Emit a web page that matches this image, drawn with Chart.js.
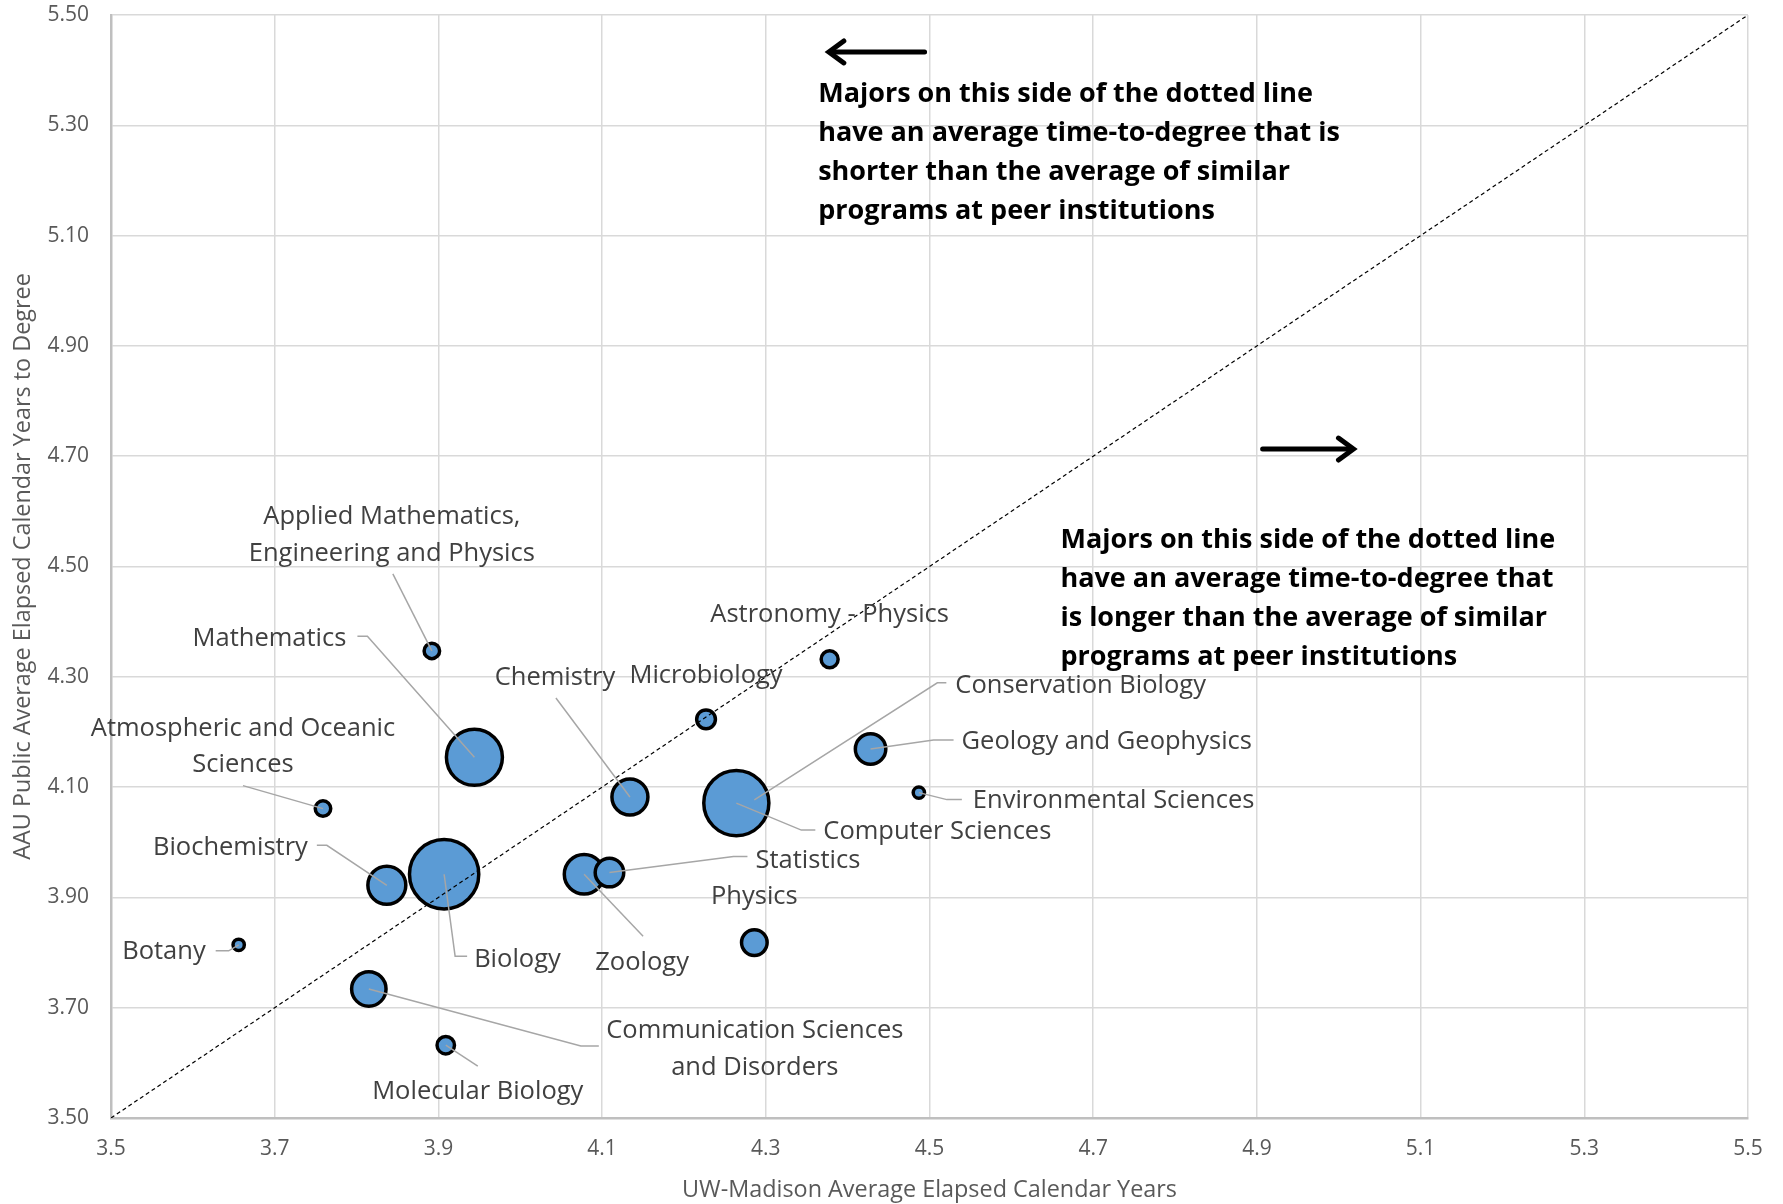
<!DOCTYPE html>
<html>
<head>
<meta charset="utf-8">
<script src="https://cdn.jsdelivr.net/npm/chart.js@4.4.1/dist/chart.umd.min.js"></script>
<style>
  html, body { margin: 0; padding: 0; background: #fff; }
  #wrap { width: 1783px; height: 1204px; }
</style>
</head>
<body>
<div id="wrap"><canvas id="chartTTD" width="1783" height="1204"></canvas></div>
<script>
// Dữ liệu: ngành học, số năm UW-Madison, số năm AAU, quy mô (kích thước bong bóng)
const majors = [
    "Botany",
    "Atmospheric and Oceanic Sciences",
    "Applied Mathematics, Engineering and Physics",
    "Communication Sciences and Disorders",
    "Biochemistry",
    "Biology",
    "Molecular Biology",
    "Mathematics",
    "Zoology",
    "Statistics",
    "Chemistry",
    "Microbiology",
    "Conservation Biology",
    "Computer Sciences",
    "Physics",
    "Astronomy - Physics",
    "Geology and Geophysics",
    "Environmental Sciences",
];
const uwYears  = [3.656, 3.759, 3.892, 3.815, 3.837, 3.907, 3.909, 3.944, 4.078, 4.109, 4.134, 4.227, 4.286, 4.264, 4.286, 4.378, 4.428, 4.487];
const aauYears = [3.814, 4.061, 4.347, 3.734, 3.922, 3.942, 3.632, 4.154, 3.942, 3.945, 4.082, 4.223, 4.077, 4.071, 3.818, 4.332, 4.169, 4.090];
const graduates = [8, 15, 15, 74, 90, 300, 19, 196, 98, 51, 81, 22, 20, 265, 41, 18, 58, 8];

const xTicks = [3.5, 3.7, 3.9, 4.1, 4.3, 4.5, 4.7, 4.9, 5.1, 5.3, 5.5];
const yTicks = [3.5, 3.7, 3.9, 4.1, 4.3, 4.5, 4.7, 4.9, 5.1, 5.3, 5.5];

const noteShorter = [
    "Majors on this side of the dotted line",
    "have an average time-to-degree that is",
    "shorter than the average of similar",
    "programs at peer institutions",
];
const noteLonger = [
    "Majors on this side of the dotted line",
    "have an average time-to-degree that",
    "is longer than the average of similar",
    "programs at peer institutions",
];

// Vị trí nhãn (px, so với tâm bong bóng) và đường dẫn
const labelLayout = {
    "Botany": { lines: ["Botany"], dx: -33, dy: 7, align: "right", leader: [[-23, 6], [-10, 6]] },
    "Atmospheric and Oceanic Sciences": { lines: ["Atmospheric and Oceanic", "Sciences"], dx: -80, dy: -80, align: "center", leader: [[-80, -23]] },
    "Applied Mathematics, Engineering and Physics": { lines: ["Applied Mathematics,", "Engineering and Physics"], dx: -40, dy: -134, align: "center", leader: [[-39, -77]] },
    "Communication Sciences and Disorders": { lines: ["Communication Sciences", "and Disorders"], dx: 386, dy: 42, align: "center", leader: [[230, 57], [212, 57]] },
    "Biochemistry": { lines: ["Biochemistry"], dx: -79, dy: -38, align: "right", leader: [[-70, -40], [-60, -40]] },
    "Biology": { lines: ["Biology"], dx: 30, dy: 85, align: "left", leader: [[23, 82], [11, 82]] },
    "Molecular Biology": { lines: ["Molecular Biology"], dx: 32, dy: 47, align: "center", leader: [[32, 21]] },
    "Mathematics": { lines: ["Mathematics"], dx: -128, dy: -119, align: "right", leader: [[-117, -121], [-107, -121]] },
    "Zoology": { lines: ["Zoology"], dx: 58, dy: 88, align: "center", leader: [[59, 62]] },
    "Statistics": { lines: ["Statistics"], dx: 146, dy: -12, align: "left", leader: [[138, -16], [124, -16]] },
    "Chemistry": { lines: ["Chemistry"], dx: -75, dy: -119, align: "center", leader: [[-74, -99]] },
    "Microbiology": { lines: ["Microbiology"], dx: 0, dy: -44, align: "center", leader: null },
    "Conservation Biology": { lines: ["Conservation Biology"], dx: 201, dy: -114, align: "left", leader: [[192, -117], [183, -117]] },
    "Computer Sciences": { lines: ["Computer Sciences"], dx: 87, dy: 29, align: "left", leader: [[79, 27], [65, 27]] },
    "Physics": { lines: ["Physics"], dx: 0, dy: -46, align: "center", leader: null },
    "Astronomy - Physics": { lines: ["Astronomy - Physics"], dx: 0, dy: -44, align: "center", leader: null },
    "Geology and Geophysics": { lines: ["Geology and Geophysics"], dx: 91, dy: -7, align: "left", leader: [[83, -9], [63, -9]] },
    "Environmental Sciences": { lines: ["Environmental Sciences"], dx: 54, dy: 8, align: "left", leader: [[43, 7], [28, 7]] },
};

const FONT = "'Open Sans', Lato, sans-serif";

const annotations = {
    id: "annotations",
    afterDatasetsDraw(chart) {
        const ctx = chart.ctx;
        const xs = chart.scales.x;
        const ys = chart.scales.y;
        const meta = chart.getDatasetMeta(1);
        ctx.save();

        // đường dẫn
        ctx.strokeStyle = "#a6a6a6";
        ctx.lineWidth = 1.5;
        meta.data.forEach((pt, i) => {
            const lay = labelLayout[majors[i]];
            if (!lay || !lay.leader) return;
            ctx.beginPath();
            lay.leader.forEach(([dx, dy], k) => {
                if (k === 0) ctx.moveTo(pt.x + dx, pt.y + dy);
                else ctx.lineTo(pt.x + dx, pt.y + dy);
            });
            ctx.lineTo(pt.x, pt.y);
            ctx.stroke();
        });

        // nhãn
        ctx.fillStyle = "#404040";
        ctx.font = "25.5px " + FONT;
        ctx.textBaseline = "middle";
        meta.data.forEach((pt, i) => {
            const lay = labelLayout[majors[i]];
            if (!lay) return;
            ctx.textAlign = lay.align;
            lay.lines.forEach((line, k) => {
                ctx.fillText(line, pt.x + lay.dx, pt.y + lay.dy + k * 36.5);
            });
        });

        // ghi chú
        ctx.fillStyle = "#000";
        ctx.font = "bold 27px " + FONT;
        ctx.textAlign = "left";
        noteShorter.forEach((line, k) => {
            ctx.fillText(line, xs.getPixelForValue(4.364), ys.getPixelForValue(5.357) + k * 39);
        });
        noteLonger.forEach((line, k) => {
            ctx.fillText(line, xs.getPixelForValue(4.660), ys.getPixelForValue(4.548) + k * 39);
        });

        // mũi tên
        const arrow = (x0, x1, yv) => {
            const px0 = xs.getPixelForValue(x0);
            const px1 = xs.getPixelForValue(x1);
            const py = ys.getPixelForValue(yv);
            const dir = Math.sign(px1 - px0);
            ctx.strokeStyle = "#000";
            ctx.lineWidth = 5;
            ctx.lineCap = "round";
            ctx.beginPath();
            ctx.moveTo(px0, py);
            ctx.lineTo(px1 - dir * 2, py);
            ctx.stroke();
            ctx.beginPath();
            ctx.moveTo(px1 - dir * 15, py - 11);
            ctx.lineTo(px1, py);
            ctx.lineTo(px1 - dir * 15, py + 11);
            ctx.stroke();
        };
        arrow(4.494, 4.377, 5.433);
        arrow(4.907, 5.018, 4.713);

        ctx.restore();
    },
};

const ctxTTD = document.getElementById("chartTTD").getContext("2d");
const chartTTD = new Chart(ctxTTD, {
    type: "bubble",
    data: {
        datasets: [
            {
                type: "line",
                label: "Parity",
                data: [{ x: 3.5, y: 3.5 }, { x: 5.5, y: 5.5 }],
                borderColor: "#000",
                borderWidth: 1.2,
                borderDash: [4, 3],
                pointRadius: 0,
                fill: false,
                order: 0,
            },
            {
                label: "Majors",
                data: majors.map((m, i) => ({
                    x: uwYears[i],
                    y: aauYears[i],
                    r: 2 * Math.sqrt(graduates[i]),
                })),
                backgroundColor: "#5b9bd5",
                borderColor: "#000",
                borderWidth: 3.5,
                hoverBorderWidth: 3.5,
                order: 1,
            },
        ],
    },
    options: {
        responsive: false,
        animation: false,
        events: [],
        layout: {
            autoPadding: false,
            padding: { top: 15, right: 35, left: 0, bottom: 0 },
        },
        plugins: {
            legend: { display: false },
            tooltip: { enabled: false },
        },
        scales: {
            x: {
                type: "linear",
                min: 3.5,
                max: 5.5,
                afterBuildTicks: (scale) => { scale.ticks = xTicks.map((v) => ({ value: v })); },
                afterFit: (scale) => {
                    scale.height = 86;
                    scale.paddingLeft = 0;
                    scale.paddingRight = 0;
                },
                ticks: {
                    callback: (v) => Number(v).toFixed(1),
                    color: "#595959",
                    font: { family: FONT, size: 21 },
                    padding: 18,
                    maxRotation: 0,
                },
                grid: { color: "#d9d9d9", lineWidth: 1.5, drawTicks: false },
                border: { color: "#bfbfbf", width: 2.5 },
                title: {
                    display: true,
                    text: "UW-Madison Average Elapsed Calendar Years",
                    color: "#595959",
                    font: { family: FONT, size: 23.4 },
                    padding: { top: 6, bottom: 0 },
                },
            },
            y: {
                type: "linear",
                min: 3.5,
                max: 5.5,
                afterBuildTicks: (scale) => { scale.ticks = yTicks.map((v) => ({ value: v })); },
                afterFit: (scale) => {
                    scale.width = 111;
                    scale.paddingTop = 0;
                    scale.paddingBottom = 0;
                },
                ticks: {
                    callback: (v) => Number(v).toFixed(2),
                    color: "#595959",
                    font: { family: FONT, size: 21 },
                    padding: 22,
                },
                grid: { color: "#d9d9d9", lineWidth: 1.5, drawTicks: false },
                border: { color: "#bfbfbf", width: 2.5 },
                title: {
                    display: true,
                    text: "AAU Public Average Elapsed Calendar Years to Degree",
                    color: "#595959",
                    font: { family: FONT, size: 23.4 },
                    padding: { top: 9, bottom: 0 },
                },
            },
        },
    },
    plugins: [annotations],
});
</script>
</body>
</html>
